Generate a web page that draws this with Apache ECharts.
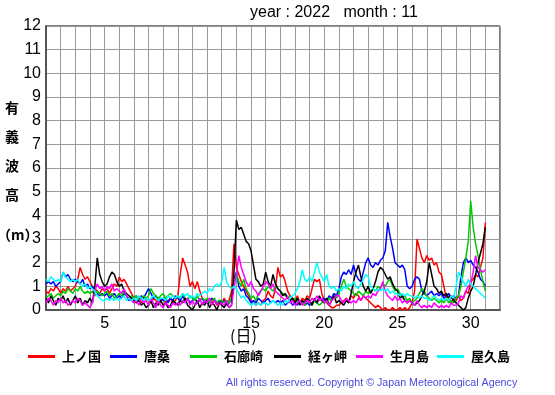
<!DOCTYPE html>
<html><head><meta charset="utf-8">
<script src="https://cdn.jsdelivr.net/npm/echarts@6/dist/echarts.min.js"></script>
<style>html,body{margin:0;padding:0;background:#fff}#c{width:555px;height:395px}</style>
</head><body><div id="c"></div>
<script>
// Observations every 4 hours from Nov 1 00:00 to Dec 1 00:00 (x = day of month)
const stationNames = ['上ノ国','唐桑','石廊崎','経ヶ岬','生月島','屋久島'];
const stationColors = ['#ff0000','#0000ff','#00cc00','#000000','#ff00ff','#00ffff'];
const xTickLabels = [5,10,15,20,25,30];
const yTickLabels = [0,1,2,3,4,5,6,7,8,9,10,11,12];
const samplesPerDay = 6;

const kaminokuni = [
0.8,0.7,0.9,0.8,1.0,0.9, 0.7,0.9,0.8,1.0,0.8,0.9, 1.0,1.3,1.8,1.5,1.3,1.4, 1.2,1.0,0.9,0.8,0.7,0.9,
0.8,0.9,0.7,0.9,1.1,1.0, 1.4,1.2,1.3,1.1,0.9,0.7, 0.5,0.4,0.5,0.3,0.4,0.5, 0.4,0.3,0.5,0.4,0.3,0.4,
0.5,0.3,0.4,0.5,0.3,0.4, 0.6,1.5,2.2,1.9,1.6,1.0, 1.2,0.9,1.2,0.8,0.5,0.4, 0.3,0.5,0.3,0.4,0.2,0.4,
0.3,0.5,0.3,0.4,0.8,2.8, 1.8,1.5,1.2,1.0,0.8,0.6, 0.4,0.3,0.2,0.3,0.2,0.4, 0.5,0.8,0.6,0.5,0.9,1.8,
1.4,1.5,1.2,0.8,0.6,0.5, 0.4,0.6,0.3,0.5,0.4,0.6, 0.5,0.9,1.3,1.2,1.3,0.7, 0.4,0.3,0.2,0.1,0.1,0.2,
0.2,0.3,0.4,0.5,0.3,0.6, 0.5,0.7,0.6,0.4,0.6,0.5, 0.4,0.3,0.2,0.1,0.2,0.1, 0.0,0.1,0.0,0.0,0.1,0.0,
0.0,0.1,0.0,0.1,0.0,0.1, 0.3,0.8,3.0,2.6,2.2,2.0, 2.3,2.1,2.2,1.9,2.0,1.6, 1.5,1.0,0.5,0.6,0.3,0.5,
0.4,0.6,0.4,0.5,0.8,0.7, 1.2,1.3,1.5,1.4,1.8,2.2, 3.7];
const karakuwa = [
1.1,1.2,1.1,1.2,1.0,1.1, 1.2,1.6,1.4,1.5,1.3,1.2, 1.3,1.2,1.1,1.3,1.0,1.1, 0.9,1.0,0.8,0.7,0.6,0.7,
0.6,0.7,0.5,0.6,0.7,0.5, 0.6,0.5,0.7,0.6,0.4,0.5, 0.5,0.6,0.4,0.6,0.5,0.7, 0.9,0.7,0.5,0.6,0.4,0.5,
0.4,0.5,0.3,0.5,0.4,0.6, 0.5,0.4,0.6,0.4,0.5,0.3, 0.4,0.5,0.3,0.4,0.5,0.3, 0.4,0.3,0.5,0.4,0.3,0.4,
0.3,0.4,0.2,0.3,0.4,1.3, 1.6,1.0,0.8,0.9,0.6,0.5, 0.3,0.4,0.3,0.5,0.4,0.3, 0.4,0.5,0.3,0.4,0.3,0.4,
0.3,0.4,0.2,0.3,0.4,0.2, 0.3,0.2,0.4,0.3,0.2,0.3, 0.2,0.3,0.4,0.3,0.5,0.4, 0.5,0.4,0.6,0.5,0.7,0.6,
0.9,1.4,1.6,1.5,1.7,1.5, 1.9,1.5,1.3,1.2,1.6,2.0, 2.2,1.9,1.8,2.0,1.9,2.1, 2.2,2.5,3.7,3.1,2.6,2.0,
1.9,1.8,1.9,1.7,1.0,0.9, 1.0,1.3,1.4,1.3,0.8,0.7, 0.6,0.7,0.8,0.6,0.7,0.6, 0.7,0.5,0.6,0.7,0.5,0.6,
0.5,0.6,1.4,2.0,2.2,2.0, 2.1,1.9,1.8,1.6,1.3,1.2, 1.0];
const irozaki = [
0.5,0.6,0.7,0.5,0.6,0.7, 0.6,0.8,0.7,0.9,0.8,0.7, 0.9,0.8,1.0,0.8,0.7,0.8, 0.7,0.8,0.6,0.8,0.7,0.6,
0.7,0.8,0.6,0.7,0.5,0.6, 0.7,0.6,0.8,0.6,0.5,0.6, 0.5,0.6,0.4,0.5,0.6,0.5, 0.6,0.9,0.7,0.6,0.5,0.6,
0.7,0.5,0.6,0.7,0.6,0.5, 0.6,0.5,0.7,0.5,0.4,0.6, 0.5,0.4,0.6,0.4,0.5,0.4, 0.5,0.3,0.4,0.5,0.3,0.4,
0.4,0.3,0.4,0.3,0.5,1.1, 1.5,1.2,1.0,1.3,0.9,0.7, 0.5,0.6,0.4,0.7,0.8,0.9, 0.8,1.0,0.9,0.8,1.0,0.9,
0.8,0.7,0.6,0.5,0.6,0.4, 0.5,0.3,0.4,0.3,0.2,0.4, 0.3,0.2,0.4,0.3,0.2,0.3, 0.4,0.3,0.5,0.4,0.6,0.5,
0.7,1.0,1.3,1.0,0.9,0.8, 0.7,0.6,0.8,0.7,0.6,0.8, 0.7,0.8,0.9,0.8,1.0,0.9, 1.1,1.0,1.2,1.3,1.0,0.8,
0.9,0.7,0.5,0.6,0.4,0.5, 0.3,0.4,0.5,0.7,0.9,0.8, 0.6,0.5,0.4,0.5,0.4,0.3, 0.4,0.3,0.5,0.3,0.4,0.3,
0.5,0.6,1.0,1.6,2.2,2.9, 4.6,3.5,2.8,2.3,1.7,1.2, 0.8];
const kyogamisaki = [
0.5,0.3,0.6,0.4,0.2,0.5, 0.4,0.6,0.3,0.5,0.2,0.4, 0.6,0.3,0.5,0.2,0.4,0.3, 0.5,0.3,1.0,2.2,1.5,1.2,
1.0,1.1,1.4,1.6,1.5,1.2, 1.0,1.1,0.8,0.7,0.6,0.5, 0.4,0.3,0.4,0.2,0.3,0.1, 0.2,0.4,0.1,0.3,0.2,0.4,
0.2,0.3,0.1,0.2,0.4,0.3, 0.2,0.4,0.3,0.5,0.2,0.1, 0.0,0.2,0.4,0.1,0.3,0.2, 0.4,0.1,0.3,0.2,0.0,0.3,
0.2,0.1,0.3,0.1,0.2,1.6, 3.8,3.4,3.5,3.2,2.9,2.8, 2.5,1.9,1.3,1.2,1.0,1.1, 1.6,1.2,1.0,1.5,1.1,0.9,
0.8,0.6,0.7,0.5,0.4,0.5, 0.3,0.5,0.2,0.4,0.3,0.5, 0.4,0.2,0.5,0.3,0.6,0.4, 0.3,0.5,0.2,0.4,0.6,0.3,
0.4,0.3,0.2,0.4,0.3,0.7, 1.2,1.6,1.9,1.4,1.0,0.8, 1.0,0.7,0.9,1.2,1.6,1.8, 1.7,1.5,1.3,1.4,1.1,0.9,
0.8,0.5,0.6,0.4,0.3,0.4, 0.3,0.2,0.3,0.4,0.6,0.8, 1.2,2.0,1.5,1.0,0.9,0.7, 0.8,0.6,0.7,0.5,0.6,0.4,
0.3,0.2,0.1,0.0,0.1,0.5, 0.8,1.0,1.5,2.0,2.4,2.8, 3.5];
const ikitsukishima = [
0.3,0.5,0.4,0.2,0.4,0.3, 0.5,0.3,0.4,0.2,0.3,0.4, 0.3,0.5,0.4,0.2,0.3,0.2, 0.1,0.3,0.8,1.1,0.9,1.0,
0.8,1.0,0.9,1.1,0.8,0.9, 0.8,0.7,0.9,0.6,0.5,0.4, 0.3,0.4,0.2,0.5,0.3,0.4, 0.2,0.5,0.3,0.1,0.4,0.2,
0.1,0.3,0.2,0.1,0.3,0.2, 0.3,0.2,0.4,0.3,0.5,0.2, 0.4,0.2,0.3,0.5,0.2,0.4, 0.3,0.5,0.2,0.4,0.3,0.2,
0.3,0.2,0.4,0.1,0.2,0.9, 1.5,2.3,1.8,1.5,1.2,1.0, 1.2,0.9,0.8,0.6,0.8,1.0, 1.2,1.1,0.9,1.1,0.8,0.7,
0.6,0.5,0.4,0.6,0.3,0.4, 0.2,0.3,0.4,0.2,0.3,0.4, 0.3,0.5,0.4,0.6,0.4,0.5, 0.3,0.4,0.2,0.4,0.5,0.6,
0.6,0.4,0.3,0.5,0.4,0.3, 0.4,0.3,0.5,0.4,0.6,0.5, 0.6,0.5,0.7,0.6,0.8,0.9, 1.2,0.8,0.6,0.5,0.4,0.6,
0.4,0.5,0.3,0.4,0.3,0.4, 0.3,0.2,0.4,0.2,0.1,0.2, 0.1,0.2,0.1,0.3,0.2,0.1, 0.2,0.1,0.2,0.1,0.3,0.2,
0.2,0.3,0.6,0.5,0.8,1.0, 1.1,1.6,2.3,1.8,1.7,1.6, 1.7];
const yakushima = [
1.3,1.2,1.4,1.3,1.2,1.3, 1.2,1.6,1.4,1.3,1.2,1.3, 1.2,1.3,1.1,1.0,1.1,0.9, 1.0,0.9,0.8,0.6,0.5,0.4,
0.4,0.5,0.4,0.5,0.4,0.5, 0.4,0.5,0.6,0.4,0.5,0.4, 0.5,0.4,0.6,0.5,0.4,0.5, 0.4,0.5,0.6,0.5,0.4,0.5,
0.5,0.4,0.6,0.5,0.6,0.5, 0.6,0.5,0.7,0.6,0.7,0.5, 0.6,0.5,0.7,0.6,0.7,0.8, 0.7,0.9,0.8,1.0,1.1,1.0,
1.2,1.8,1.2,1.0,0.9,1.0, 0.9,0.7,0.5,0.6,0.4,0.3, 0.2,0.3,0.2,0.3,0.2,0.3, 0.3,0.2,0.3,0.4,0.3,0.2,
0.3,0.2,0.4,0.3,0.5,0.6, 0.7,0.9,1.2,1.7,1.3,1.2, 1.4,1.2,1.6,2.0,1.6,1.4, 1.2,1.5,1.0,0.9,1.0,0.8,
0.9,0.8,1.0,0.9,1.1,1.0, 1.2,1.0,0.9,1.1,1.3,1.5, 1.4,1.0,0.9,0.8,0.9,0.8, 0.9,0.8,0.9,0.7,0.8,0.7,
0.7,0.6,0.7,0.6,0.7,0.6, 0.6,0.5,0.6,0.5,0.6,0.5, 0.5,0.4,0.5,0.6,0.5,0.4, 0.5,0.4,0.5,0.4,0.6,0.5,
1.0,1.6,1.4,1.2,1.0,1.3, 1.1,1.0,0.9,0.8,0.7,0.6, 0.5];

const seriesValues = [kaminokuni, karakuwa, irozaki, kyogamisaki, ikitsukishima, yakushima];

const chart = echarts.init(document.getElementById('c'), null, {renderer:'canvas'});
const font = '"Liberation Sans", Arial, sans-serif';
const cjk = '"Noto Sans CJK JP", sans-serif';

const legendLefts = [28, 110, 190, 274, 356, 437];

const option = {
  animation: false,
  backgroundColor: '#fff',
  grid: {left: 46, top: 26, right: 55, bottom: 85, show: true, borderColor: '#000', borderWidth: 1, backgroundColor: 'transparent'},
  xAxis: {
    type: 'value', min: 1, max: 32, interval: 1,
    axisLine: {show: true, onZero: false, lineStyle: {color: '#555', width: 2}},
    axisTick: {show: false},
    splitLine: {show: true, lineStyle: {color: '#999', width: 1}},
    axisLabel: {color: '#000', fontFamily: font, fontSize: 16, margin: 6,
      formatter: v => xTickLabels.indexOf(v) >= 0 ? String(v) : ''}
  },
  yAxis: {
    type: 'value', min: 0, max: 12, interval: 1,
    axisLine: {show: true, onZero: false, lineStyle: {color: '#555', width: 2}},
    axisTick: {show: false},
    splitLine: {show: true, lineStyle: {color: '#999', width: 1}},
    axisLabel: {color: '#000', fontFamily: font, fontSize: 16, margin: 5,
      formatter: v => yTickLabels.indexOf(v) >= 0 ? String(v) : ''}
  },
  legend: stationNames.map((n, i) => ({
    data: [n], left: legendLefts[i], top: 350, icon: 'rect', itemWidth: 27, itemHeight: 3,
    itemGap: 0, padding: 0,
    textStyle: {fontFamily: cjk, fontSize: 13, fontWeight: 'bold', color: '#000', padding: [0,0,0,2]}
  })),
  series: seriesValues.map((vals, i) => ({
    name: stationNames[i], type: 'line', showSymbol: false, symbol: 'none',
    color: stationColors[i],
    lineStyle: {width: 1.5, color: stationColors[i]},
    data: vals.map((v, k) => [1 + k / samplesPerDay, v])
  })),
  graphic: [
    {type: 'text', left: 250, top: 5, style: {text: 'year : 2022   month : 11', font: '16px ' + font, fill: '#000'}},
    {type: 'text', left: 230, top: 328, style: {text: '(日)', font: '16px ' + cjk, fill: '#000'}},
    {type: 'text', left: 5, top: 101, style: {text: '有', font: 'bold 14px ' + cjk, fill: '#000'}},
    {type: 'text', left: 5, top: 130, style: {text: '義', font: 'bold 14px ' + cjk, fill: '#000'}},
    {type: 'text', left: 5, top: 159, style: {text: '波', font: 'bold 14px ' + cjk, fill: '#000'}},
    {type: 'text', left: 5, top: 188, style: {text: '高', font: 'bold 14px ' + cjk, fill: '#000'}},
    {type: 'text', left: -3, top: 228, style: {text: '（m）', font: 'bold 14px ' + cjk, fill: '#000'}},
    {type: 'text', left: 226, top: 378, style: {text: 'All rights reserved. Copyright © Japan Meteorological Agency', font: '10.7px ' + font, fill: '#4a4ae0'}}
  ]
};
chart.setOption(option);
</script>
</body></html>
